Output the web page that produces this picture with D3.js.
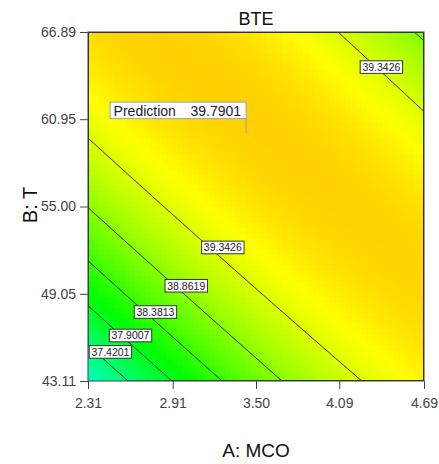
<!DOCTYPE html>
<html>
<head>
<meta charset="utf-8">
<script src="https://cdn.jsdelivr.net/npm/d3@7"></script>
<style>
  body { margin: 0; background: #fff; }
  svg { display: block; font-family: "Liberation Sans", Arial, sans-serif; }
</style>
</head>
<body>
<svg id="chart" width="439" height="464"></svg>
<script>
// axis ticks (actual factor units)
let xTicks = [2.31, 2.91, 3.50, 4.09, 4.69]
let yTicks = [43.11, 49.05, 55.00, 60.95, 66.89]

// fitted quadratic model in coded units: Intercept, A, B, AB, A^2, B^2
let modelTerms = ["Intercept", "A", "B", "AB", "A2", "B2"]
let modelCoefs = [39.697, 0.423, 0.504, -0.905, -0.403, -0.527]

// contour levels drawn on the plot
let contourLevels = [37.4201, 37.9007, 38.3813, 38.8619, 39.3426]

// contour label positions (A, B) and the level they show
let labelLevel = [37.4201, 37.9007, 38.3813, 38.8619, 39.3426, 39.3426]
let labelA = [2.469, 2.611, 2.788, 3.006, 3.265, 4.388]
let labelB = [45.09, 46.21, 47.81, 49.60, 52.21, 64.50]

// prediction flag
let predA = 3.43
let predB = 60.0
let predValue = 39.7901

let margins = {top: 32, left: 88, right: 15, bottom: 83}
let svgWidth = 439 - margins.left - margins.right
let svgHeight = 464 - margins.top - margins.bottom

let svg = d3.select('#chart')

let x = d3.scaleLinear().domain([xTicks[0], xTicks[4]]).range([margins.left, margins.left + svgWidth])
let y = d3.scaleLinear().domain([yTicks[0], yTicks[4]]).range([margins.top + svgHeight, margins.top])

// MODEL
function bte(A, B) {
    let a = (A - 3.50) / 1.19
    let b = (B - 55.00) / 11.89
    let t = [1, a, b, a * b, a * a, b * b]
    return d3.sum(t, (v, i) => v * modelCoefs[i])
}

// COLOUR RAMP (blue-cyan-green-yellow-red)
let colour = d3.scaleLinear()
    .domain([35.13, 36.60, 38.075, 39.55, 41.02])
    .range(['#0000ff', '#00ffff', '#00ff00', '#ffff00', '#ff0000'])
    .clamp(true)

// CLIP
svg.append('clipPath').attr('id', 'plotclip')
    .append('rect')
    .attr('x', margins.left).attr('y', margins.top)
    .attr('width', svgWidth).attr('height', svgHeight)

let plot = svg.append('g').attr('clip-path', 'url(#plotclip)')

// FILL CELLS
let nx = 64, ny = 66
let cells = []
for (let j = 0; j < ny; j++) {
    for (let i = 0; i < nx; i++) {
        let A0 = xTicks[0] + (xTicks[4] - xTicks[0]) * i / nx
        let A1 = xTicks[0] + (xTicks[4] - xTicks[0]) * (i + 1) / nx
        let B0 = yTicks[0] + (yTicks[4] - yTicks[0]) * j / ny
        let B1 = yTicks[0] + (yTicks[4] - yTicks[0]) * (j + 1) / ny
        cells.push({A0, A1, B0, B1, v: bte((A0 + A1) / 2, (B0 + B1) / 2)})
    }
}
plot.append('g')
    .selectAll('rect')
    .data(cells)
    .join('rect')
        .attr('x', d => x(d.A0))
        .attr('y', d => y(d.B1))
        .attr('width', d => x(d.A1) - x(d.A0) + 0.6)
        .attr('height', d => y(d.B0) - y(d.B1) + 0.6)
        .attr('fill', d => colour(d.v))
        .attr('shape-rendering', 'crispEdges')

// CONTOUR LINES
let gx = 300, gy = 300
let values = new Array(gx * gy)
for (let j = 0; j < gy; j++) {
    for (let i = 0; i < gx; i++) {
        let A = x.invert(margins.left + (i + 0.5) * svgWidth / gx)
        let B = y.invert(margins.top + (j + 0.5) * svgHeight / gy)
        values[i + j * gx] = bte(A, B)
    }
}
let contours = d3.contours().size([gx, gy]).thresholds(contourLevels)(values)
let proj = d3.geoTransform({
    point: function(px, py) {
        this.stream.point(margins.left + px * svgWidth / gx, margins.top + py * svgHeight / gy)
    }
})
plot.append('g')
    .selectAll('path')
    .data(contours)
    .join('path')
        .attr('d', d3.geoPath(proj))
        .attr('fill', 'none')
        .attr('stroke', '#111')
        .attr('stroke-width', 0.95)

// CONTOUR LABELS
let labels = plot.append('g')
    .selectAll('g')
    .data(labelLevel.map((l, i) => ({level: l, A: labelA[i], B: labelB[i]})))
    .join('g')
        .attr('transform', d => `translate(${x(d.A)},${y(d.B)})`)
labels.append('rect')
    .attr('x', -21.2).attr('y', -6.3)
    .attr('width', 42.4).attr('height', 12.6)
    .attr('fill', '#fff')
    .attr('stroke', '#333')
    .attr('stroke-width', 1)
labels.append('text')
    .attr('text-anchor', 'middle')
    .attr('y', 3.8)
    .attr('font-size', 10.5)
    .attr('fill', '#222')
    .text(d => d.level.toFixed(4))

// FRAME
svg.append('rect')
    .attr('x', margins.left).attr('y', margins.top)
    .attr('width', svgWidth).attr('height', svgHeight)
    .attr('fill', 'none')
    .attr('stroke', '#444')
    .attr('stroke-width', 1)

// PREDICTION FLAG
let px = x(predA), py = y(predB)
let flag = svg.append('g')
flag.append('line')
    .attr('x1', px).attr('x2', px)
    .attr('y1', py).attr('y2', py - 15)
    .attr('stroke', '#9a9ad0')
flag.append('rect')
    .attr('x', px - 136).attr('y', py - 31)
    .attr('width', 136).attr('height', 16.5)
    .attr('fill', '#fff')
    .attr('stroke', '#9a9ad0')
flag.append('text')
    .attr('x', px - 132.5).attr('y', py - 17.6)
    .attr('font-size', 14)
    .attr('fill', '#1a1a2e')
    .text('Prediction')
flag.append('text')
    .attr('x', px - 5).attr('y', py - 17.6)
    .attr('font-size', 14)
    .attr('text-anchor', 'end')
    .attr('fill', '#1a1a2e')
    .text(predValue.toFixed(4))

// AXES
svg.append('g')
    .attr('transform', `translate(0, ${margins.top + svgHeight})`)
    .call(d3.axisBottom(x).tickValues(xTicks).tickFormat(d3.format('.2f')).tickSize(8).tickPadding(9))
    .attr('color', '#444')
    .attr('font-size', 14)
    .attr('font-family', '"Liberation Sans", Arial, sans-serif')
    .call(g => g.select('.domain').remove())

svg.append('g')
    .attr('transform', `translate(${margins.left}, 0)`)
    .call(d3.axisLeft(y).tickValues(yTicks).tickFormat(d3.format('.2f')).tickSize(8).tickPadding(4))
    .attr('color', '#444')
    .attr('font-size', 14)
    .attr('font-family', '"Liberation Sans", Arial, sans-serif')
    .call(g => g.select('.domain').remove())

// TITLES
svg.append('text')
    .attr('x', margins.left + svgWidth / 2).attr('y', 25)
    .attr('text-anchor', 'middle')
    .attr('font-size', 18)
    .attr('fill', '#111')
    .text('BTE')

svg.append('text')
    .attr('x', margins.left + svgWidth / 2).attr('y', 457)
    .attr('text-anchor', 'middle')
    .attr('font-size', 19)
    .attr('fill', '#111')
    .text('A: MCO')

svg.append('text')
    .attr('transform', 'translate(37, 205) rotate(-90)')
    .attr('text-anchor', 'middle')
    .attr('font-size', 20)
    .attr('fill', '#111')
    .text('B: T')
</script>
</body>
</html>
